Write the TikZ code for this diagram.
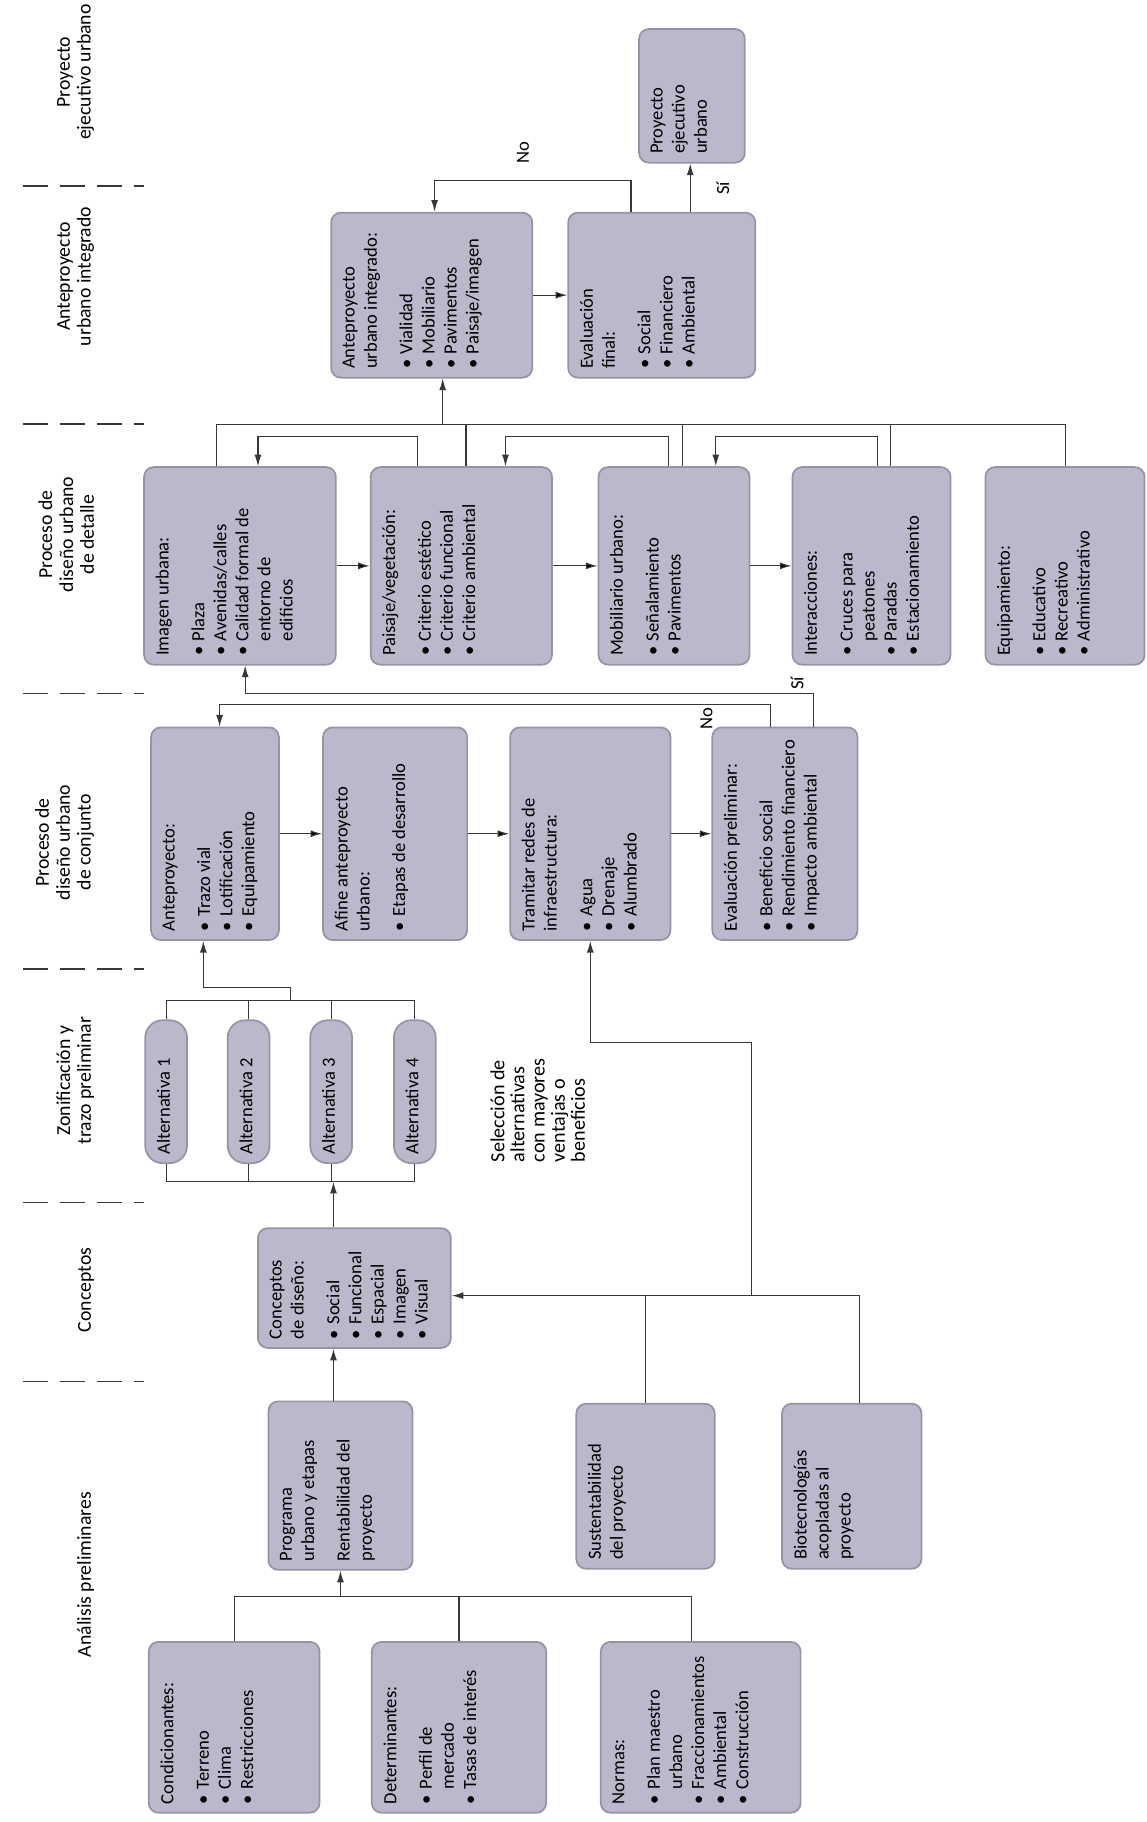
\documentclass[tikz,border=0pt]{standalone}
\usepackage{fontspec}
\setmainfont{Carlito}
\usepackage{graphicx}
\usetikzlibrary{arrows.meta}

\definecolor{cardfill}{RGB}{188,184,204}
\definecolor{carddraw}{RGB}{150,148,162}
\definecolor{linkcol}{RGB}{55,55,55}

% rotated text block that fills a card (width and height as seen on the page)
\newcommand{\cardtxt}[3]{\rotatebox{90}{\parbox[c][\dimexpr#1-12pt\relax][t]{\dimexpr#2-9pt\relax}{\raggedright #3}}}
\newcommand{\ttl}[1]{#1\par\vspace{7pt}}
\newcommand{\itm}[1]{\par\hangindent=0.8em\hangafter=1\noindent\makebox[0.8em][l]{\textbullet}{\let\\\newline#1}}
\newcommand{\cardnode}[6][card]{\node[#1, minimum width=#4, minimum height=#5] (#2) at (#3) {\cardtxt{#4}{#5}{#6}};}

\tikzset{
  card/.style={draw=carddraw, fill=cardfill, line width=0.9pt, rounded corners=5pt,
    inner sep=0pt, font=\fontsize{9.6}{11.4}\selectfont},
  pill/.style={card, rounded corners=9pt},
  link/.style={draw=linkcol, line width=0.6pt},
  arr/.style={link, -{Latex[length=6pt,width=3.6pt]}},
  stage/.style={rotate=90, anchor=south, align=center, inner sep=1pt, font=\fontsize{10.2}{10.8}\selectfont},
  rtext/.style={rotate=90, inner sep=1pt, font=\fontsize{9.6}{11}\selectfont},
  stagesep/.style={draw=linkcol, line width=0.8pt, dash pattern=on 13pt off 6pt},
}

\begin{document}
\begin{tikzpicture}[x=0.6pt, y=-0.6pt]
\useasboundingbox (0,0) rectangle (987,1568);

% stages
\node[stage] (s1) at (83,62) {Proyecto\\ejecutivo urbano};
\node[stage] (s2) at (83,238) {Anteproyecto\\urbano integrado};
\node[stage] (s3) at (83,460) {Proceso de\\diseño urbano\\de detalle};
\node[stage] (s4) at (83,725) {Proceso de\\diseño urbano\\de conjunto};
\node[stage] (s5) at (83,930) {Zonificación y\\trazo preliminar};
\node[stage] (s6) at (83,1110) {Conceptos};
\node[stage] (s7) at (83,1355) {Análisis preliminares};
\foreach \y in {160,365,597,834,1035,1189}
  \draw[stagesep] (20,\y) -- (124,\y);

% proyecto ejecutivo / anteproyecto integrado
\cardnode{PE}{595.5,82.5}{54.6pt}{69pt}{Proyecto\\ejecutivo\\urbano}
\cardnode{AUI}{371.5,254}{103.8pt}{85.2pt}{\ttl{Anteproyecto\\urbano integrado:}\itm{Vialidad}\itm{Mobiliario}\itm{Pavimentos}\itm{Paisaje/imagen}}
\cardnode{EF}{569.5,254}{96.6pt}{85.2pt}{\ttl{Evaluación\\final:}\itm{Social}\itm{Financiero}\itm{Ambiental}}

% diseño de detalle
\cardnode{IU}{206.5,487}{99pt}{102pt}{\ttl{Imagen urbana:}\itm{Plaza}\itm{Avenidas/calles}\itm{Calidad formal de\\entorno de\\edificios}}
\cardnode{PV}{397,487}{93.6pt}{102pt}{\ttl{Paisaje/vegetación:}\itm{Criterio estético}\itm{Criterio funcional}\itm{Criterio ambiental}}
\cardnode{MU}{580,487}{78pt}{102pt}{\ttl{Mobiliario urbano:}\itm{Señalamiento}\itm{Pavimentos}}
\cardnode{IN}{750,487}{81.6pt}{102pt}{\ttl{Interacciones:}\itm{Cruces para\\peatones}\itm{Paradas}\itm{Estacionamiento}}
\cardnode{EQ}{916.5,487}{82.2pt}{102pt}{\ttl{Equipamiento:}\itm{Educativo}\itm{Recreativo}\itm{Administrativo}}

% diseño de conjunto
\cardnode{AP}{185,717.5}{66pt}{109.8pt}{\ttl{Anteproyecto:}\itm{Trazo vial}\itm{Lotificación}\itm{Equipamiento}}
\cardnode{AF}{340,717.5}{74.4pt}{109.8pt}{\ttl{Afine anteproyecto\\urbano:}\itm{Etapas de desarrollo}}
\cardnode{TR}{508,717.5}{82.8pt}{109.8pt}{\ttl{Tramitar redes de\\infraestructura:}\itm{Agua}\itm{Drenaje}\itm{Alumbrado}}
\cardnode{EP}{675.5,717.5}{75pt}{109.8pt}{\ttl{Evaluación preliminar:}\itm{Beneficio social}\itm{Rendimiento financiero}\itm{Impacto ambiental}}

% zonificacion
\cardnode[pill]{A1}{143,939.5}{21.6pt}{73.8pt}{Alternativa 1}
\cardnode[pill]{A2}{214,939.5}{21.6pt}{73.8pt}{Alternativa 2}
\cardnode[pill]{A3}{285,939.5}{21.6pt}{73.8pt}{Alternativa 3}
\cardnode[pill]{A4}{357,939.5}{21.6pt}{73.8pt}{Alternativa 4}
\node[rtext, anchor=north west, align=left, font=\fontsize{10.4}{10.4}\selectfont] (sel) at (420,1002)
  {Selección de\\alternativas\\con mayores\\ventajas o\\beneficios};

% conceptos
\cardnode{Conc}{305,1108.5}{99.6pt}{61.8pt}{\ttl{Conceptos\\de diseño:}\itm{Social}\itm{Funcional}\itm{Espacial}\itm{Imagen}\itm{Visual}}

% analisis preliminares
\cardnode{Prog}{293,1278.5}{74.4pt}{87pt}{\ttl{Programa\\urbano y etapas}Rentabilidad del\\proyecto}
\cardnode{Sust}{555.5,1279}{71.4pt}{85.2pt}{Sustentabilidad\\del proyecto}
\cardnode{Bio}{733,1279}{72pt}{85.2pt}{Biotecnologías\\acopladas al\\proyecto}
\cardnode{Cond}{201.5,1486.5}{88.2pt}{88.2pt}{\ttl{Condicionantes:}\itm{Terreno}\itm{Clima}\itm{Restricciones}}
\cardnode{Det}{395,1486.5}{90pt}{88.2pt}{\ttl{Determinantes:}\itm{Perfil de\\mercado}\itm{Tasas de interés}}
\cardnode{Nor}{603,1486.5}{103.2pt}{88.2pt}{\ttl{Normas:}\itm{Plan maestro\\urbano}\itm{Fraccionamientos}\itm{Ambiental}\itm{Construcción}}

% bends
\coordinate (bL) at (201,1374);
\coordinate (bR) at (595,1374);
\coordinate (cA) at (287,1180);
\coordinate (altS) at (250,1017);
\coordinate (altN) at (250,861);
\coordinate (jog) at (250,850);
\coordinate (apIn) at (175,850);
\coordinate (sb) at (740,1115);
\coordinate (selA) at (647,1115);
\coordinate (selB) at (647,897);
\coordinate (siC) at (700,597);
\coordinate (siD) at (211,597);
\coordinate (noC) at (663,606);
\coordinate (noD) at (189,606);
\coordinate (fbPV) at (359,376);
\coordinate (fbIU) at (222,376);
\coordinate (fbMU) at (575,376);
\coordinate (inPV) at (435,376);
\coordinate (fbIN) at (755,376);
\coordinate (inMU) at (616,376);
\coordinate (bIU) at (186,365);
\coordinate (bPV) at (401,365);
\coordinate (bMU) at (587,365);
\coordinate (bIN) at (766,365);
\coordinate (bEQ) at (917,365);
\coordinate (bAUI) at (381,365);
\coordinate (siT) at (594,160);
\coordinate (noA) at (543,155);
\coordinate (noB) at (374,155);

% analisis -> programa -> conceptos -> alternativas
\draw[link] (Cond.north) -- (Cond.north |- bL) -- (bR) -- (bR |- Nor.north);
\draw[link] (Det.north) -- (Det.north |- bL);
\draw[arr] (Prog.south |- bL) -- (Prog.south);
\draw[arr] (Prog.north -| cA) -- (Conc.south -| cA);
\draw[arr] (Conc.north -| cA) -- (cA |- altS);
\draw[link] (A1.south) |- (A4.south |- altS) -- (A4.south);
\draw[link] (A2.south) -- (A2.south |- altS);
\draw[link] (A3.south) -- (A3.south |- altS);

% alternativas -> anteproyecto
\draw[link] (A1.north) |- (A4.north |- altN) -- (A4.north);
\draw[link] (A2.north) -- (A2.north |- altN);
\draw[link] (A3.north) -- (A3.north |- altN);
\draw[arr] (altN) -- (jog) -- (apIn) -- (AP.south -| apIn);

% sustentabilidad, biotecnologias
\draw[arr] (Bio.north -| sb) -- (sb) -- (Conc.east |- sb);
\draw[link] (Sust.north) -- (Sust.north |- sb);
\draw[arr] (selA) -- (selB) -| (TR.south);

% diseño de conjunto
\path[arr] (AP) edge (AF) (AF) edge (TR) (TR) edge (EP);
\draw[arr] (EP.north -| siC) -- (siC) -- (siD) -- (IU.south -| siD);
\draw[arr] (EP.north -| noC) -- (noC) -- (noD) -- (AP.north -| noD);
\node[rtext] (lSi2) at (686,588) {Sí};
\node[rtext] (lNo2) at (608,618) {No};

% diseño de detalle
\path[arr] (IU) edge (PV) (PV) edge (MU) (MU) edge (IN);
\draw[arr] (PV.north -| fbPV) -- (fbPV) -- (fbIU) -- (IU.north -| fbIU);
\draw[arr] (MU.north -| fbMU) -- (fbMU) -- (inPV) -- (PV.north -| inPV);
\draw[arr] (IN.north -| fbIN) -- (fbIN) -- (inMU) -- (MU.north -| inMU);
\draw[link] (IU.north -| bIU) -- (bIU) -- (bEQ) -- (EQ.north -| bEQ);
\draw[link] (bPV) -- (PV.north -| bPV);
\draw[link] (bMU) -- (MU.north -| bMU);
\draw[link] (bIN) -- (IN.north -| bIN);
\draw[arr] (bAUI) -- (AUI.south -| bAUI);

% anteproyecto integrado
\path[arr] (AUI) edge (EF);
\draw[arr] (EF.north -| siT) -- (PE.south -| siT);
\draw[arr] (EF.north -| noA) -- (noA) -- (noB) -- (AUI.north -| noB);
\node[rtext] (lSi1) at (622,162) {Sí};
\node[rtext] (lNo1) at (450,131) {No};

\end{tikzpicture}
\end{document}
